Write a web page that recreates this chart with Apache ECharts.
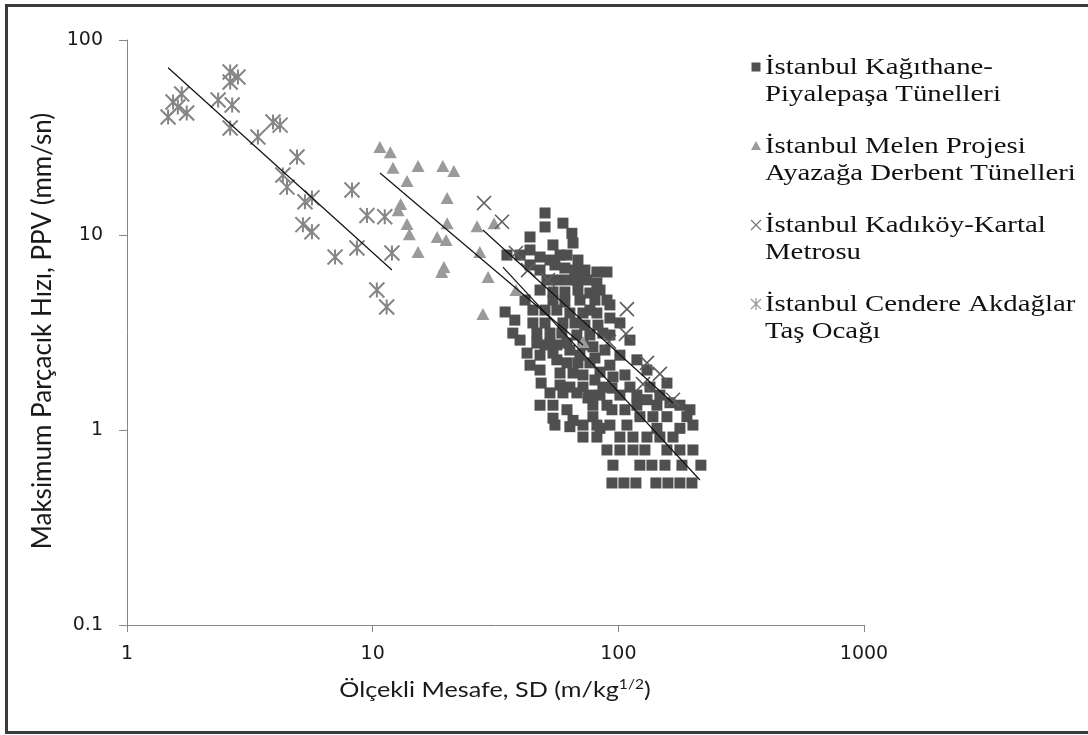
<!DOCTYPE html>
<html>
<head>
<meta charset="utf-8">
<script src="https://cdn.jsdelivr.net/npm/echarts@6/dist/echarts.min.js"></script>
<style>
  html, body { margin: 0; padding: 0; background: #fff; }
  #chart { width: 1088px; height: 735px; }
</style>
</head>
<body>
<div id="chart"></div>
<script>
// Scaled distance SD (m/kg^1/2) vs. peak particle velocity PPV (mm/sn)

const seriesNames = [
  'İstanbul Kağıthane-\nPiyalepaşa Tünelleri',
  'İstanbul Melen Projesi\nAyazağa Derbent Tünelleri',
  'İstanbul Kadıköy-Kartal\nMetrosu',
  'İstanbul Cendere Akdağlar\nTaş Ocağı'
];

const xTicks = [1, 10, 100, 1000];
const yTicks = [0.1, 1, 10, 100];

// [SD, PPV]
const kagithane = [
  [50.3, 12.97], [50.3, 11.0], [59.5, 11.5], [64.7, 10.2], [65.4, 9.1], [43.7, 9.77],
  [35.2, 7.89], [43.7, 8.38], [48.0, 7.71], [52.7, 7.44], [57.9, 7.89], [61.8, 7.89],
  [68.5, 7.44], [55.2, 7.02], [60.6, 6.77], [66.6, 6.61], [73.1, 6.61], [81.8, 6.46],
  [89.9, 6.46], [51.2, 5.88], [56.2, 5.88], [61.8, 5.88], [67.8, 5.88], [74.5, 5.88],
  [81.8, 5.67], [48.0, 5.22], [54.2, 5.10], [60.6, 5.10], [68.5, 5.22], [76.6, 5.04],
  [54.2, 4.64], [60.6, 4.53], [69.8, 4.64], [80.3, 4.64], [89.9, 4.64], [34.6, 4.03],
  [44.9, 4.12], [50.3, 4.12], [56.2, 4.12], [63.5, 3.98], [71.8, 3.98], [81.8, 3.98],
  [92.4, 3.75], [101.5, 3.54], [44.9, 3.54], [50.3, 3.54], [37.2, 3.14], [46.6, 3.14],
  [52.7, 3.14], [58.9, 3.14], [67.8, 3.07], [76.6, 3.07], [86.5, 3.14], [111.5, 2.89],
  [46.6, 2.79], [52.7, 2.79], [61.8, 2.79], [78.8, 2.67], [88.2, 2.57], [42.5, 2.48],
  [48.0, 2.42], [54.2, 2.48], [69.8, 2.42], [101.5, 2.42], [61.8, 2.21], [68.5, 2.21],
  [76.6, 2.21], [119.0, 2.29], [57.9, 1.96], [65.4, 1.96], [84.2, 1.98], [95.1, 1.87],
  [130.8, 2.03], [48.5, 1.74], [63.5, 1.66], [71.8, 1.66], [86.5, 1.66], [111.5, 1.66],
  [134.5, 1.66], [157.7, 1.74], [52.7, 1.55], [59.5, 1.55], [67.8, 1.55], [76.6, 1.51],
  [101.5, 1.51], [48.0, 1.34], [54.2, 1.34], [61.8, 1.27], [78.8, 1.34], [89.9, 1.34],
  [130.8, 1.43], [143.6, 1.34], [162.2, 1.38], [178.1, 1.34], [195.6, 1.27], [54.2, 1.15],
  [65.4, 1.12], [71.8, 1.06], [81.8, 1.06], [92.4, 1.06], [108.4, 1.06], [122.4, 1.17],
  [138.3, 1.17], [157.7, 1.17], [190.2, 1.17], [63.5, 1.04], [84.2, 1.02], [71.8, 0.92],
  [114.7, 0.92], [130.8, 0.92], [147.6, 0.92], [166.9, 0.92], [89.9, 0.79], [101.5, 0.79],
  [114.7, 0.79], [178.1, 0.79], [95.1, 0.66], [122.4, 0.66], [137.0, 0.66], [154.8, 0.66],
  [181.5, 0.66], [216.8, 0.66], [94.2, 0.535], [105.4, 0.535], [117.9, 0.535],
  [142.2, 0.535], [159.2, 0.535], [178.1, 0.535], [199.3, 0.535],
  [56.2, 2.73], [63.5, 2.57], [71.8, 2.73], [80.3, 2.34], [56.2, 2.29], [71.8, 1.915],
  [80.3, 1.805], [92.4, 2.15], [57.9, 1.70], [75.2, 1.46], [84.2, 1.51], [94.2, 1.64],
  [106.4, 1.915], [119.0, 1.51], [94.2, 1.27], [106.4, 1.27], [119.0, 1.34], [147.6, 1.51],
  [55.2, 1.06], [78.8, 1.17], [143.6, 1.02], [178.1, 1.02], [201.2, 1.06], [101.5, 0.92],
  [81.8, 0.92], [157.7, 0.79], [201.2, 0.79], [128.3, 0.79], [41.7, 4.64], [39.8, 2.89],
  [50.3, 2.73], [43.7, 2.15], [48.0, 2.03], [37.9, 3.66], [73.1, 3.45], [82.6, 3.45],
  [92.4, 3.07], [66.6, 3.54], [59.5, 3.54], [76.6, 4.12], [92.4, 4.38], [84.2, 5.22],
  [48.0, 6.61], [43.7, 7.02], [39.8, 7.89], [54.2, 8.89]
];

const melen = [
  [10.7, 28.3], [11.8, 26.6], [12.1, 22.1], [15.3, 22.6], [19.3, 22.6], [21.4, 21.3],
  [13.8, 18.9], [20.1, 15.5], [13.0, 14.4], [12.7, 13.4], [13.8, 11.4], [14.1, 10.1],
  [20.1, 11.5], [18.3, 9.77], [19.9, 9.43], [15.3, 8.18], [19.5, 6.85], [19.1, 6.46],
  [26.6, 11.1], [27.3, 8.18], [29.5, 6.09], [31.2, 11.5], [28.1, 3.94], [38.3, 5.22],
  [71.8, 2.83]
];

const kadikoy = [
  [28.4, 14.6], [33.6, 11.7], [38.3, 8.08], [42.9, 6.61], [51.7, 5.88], [108.4, 4.17],
  [107.4, 3.11], [91.6, 2.83], [130.8, 2.21], [147.6, 1.94], [126.0, 1.72], [166.9, 1.43]
];

const cendere = [
  [1.47, 40.3], [1.54, 48.1], [1.67, 52.9], [1.75, 42.2], [1.61, 45.3], [2.63, 68.5],
  [2.83, 64.6], [2.63, 60.9], [2.35, 49.2], [2.68, 46.4], [2.63, 35.4], [3.41, 31.8],
  [3.93, 38.0], [4.20, 36.6], [4.92, 25.1], [4.31, 20.3], [4.48, 17.6], [5.30, 14.8],
  [5.66, 15.5], [5.20, 11.3], [5.66, 10.4], [8.24, 17.0], [9.48, 12.6], [11.2, 12.4],
  [7.03, 7.71], [8.63, 8.58], [11.98, 8.09], [10.4, 5.22], [11.4, 4.27]
];

// Power-law fits, given by their end points (straight on log-log axes)
const fitKagithane = [[33.9, 6.85], [214.8, 0.554]];
const fitMelen = [[10.71, 20.8], [71.8, 2.73]];
const fitKadikoy = [[28.1, 10.6], [166.9, 1.375]];
const fitCendere = [[1.47, 72.1], [11.98, 6.61]];

const COLORS = {
  kagithane: '#4f4f4f',
  melen: '#9a9a9a',
  kadikoy: '#5e5e5e',
  cendere: '#858585'
};

const CROSS = 'path://M0,0L10,10M10,0L0,10';
const STAR = 'path://M0,0L10,10M10,0L0,10M5,0L5,10';

const chart = echarts.init(document.getElementById('chart'), null, { renderer: 'canvas' });

const GRID = { left: 127, top: 40, width: 737, height: 585 };

function fitLine(data) {
  return {
    type: 'line', data: data, showSymbol: false, symbol: 'none', silent: true,
    lineStyle: { color: '#111', width: 1.2 }, z: 5, animation: false
  };
}

const legendTop = 54;
const legendGap = 79;
const legendIconX = 756;
const legendTextX = 765;
const lineH = 27;
const legendGraphics = [];
const iconStyles = [
  { type: 'rect', shape: { x: -4.5, y: -4.5, width: 9, height: 9 }, style: { fill: COLORS.kagithane } },
  { type: 'polygon', shape: { points: [[0, -5], [5, 4], [-5, 4]] }, style: { fill: COLORS.melen } },
  { type: 'polyline', shape: { points: [[-5, -5], [5, 5], [0, 0], [5, -5], [-5, 5]] }, style: { stroke: '#777', lineWidth: 1.2, fill: null } },
  { type: 'polyline', shape: { points: [[-5, -5], [5, 5], [0, 0], [5, -5], [-5, 5], [0, 0], [0, -6], [0, 6]] }, style: { stroke: '#999', lineWidth: 1.2, fill: null } }
];
seriesNames.forEach(function (name, i) {
  const y = legendTop + i * legendGap;
  const icon = Object.assign({}, iconStyles[i], { x: legendIconX, y: y + 13 });
  legendGraphics.push(icon);
  legendGraphics.push({
    type: 'text', x: legendTextX, y: y, scaleX: 1.2,
    style: {
      text: name, fill: '#111', font: '24px "Liberation Serif", serif',
      lineHeight: lineH, textVerticalAlign: 'top'
    }
  });
});

const option = {
  animation: false,
  backgroundColor: '#fff',
  grid: GRID,
  xAxis: {
    type: 'log', logBase: 10, min: 1, max: 1000,
    axisLine: { show: true, onZero: false, lineStyle: { color: '#868686', width: 1 } },
    axisTick: { show: true, length: 7, lineStyle: { color: '#868686' } },
    axisLabel: { margin: 20, color: '#1a1a1a', fontFamily: 'DejaVu Sans', fontSize: 19,
      formatter: function (v) { return xTicks.indexOf(v) >= 0 ? String(v) : ''; } },
    splitLine: { show: false }, minorTick: { show: false }
  },
  yAxis: {
    type: 'log', logBase: 10, min: 0.1, max: 100,
    axisLine: { show: true, onZero: false, lineStyle: { color: '#868686', width: 1 } },
    axisTick: { show: true, length: 8, lineStyle: { color: '#868686' } },
    axisLabel: { margin: 24, color: '#1a1a1a', fontFamily: 'DejaVu Sans', fontSize: 19,
      formatter: function (v) {
        const t = yTicks.find(function (k) { return Math.abs(k - v) / k < 1e-6; });
        return t !== undefined ? String(t) : '';
      } },
    splitLine: { show: false }, minorTick: { show: false }
  },
  series: [
    { name: seriesNames[0], type: 'scatter', data: kagithane, symbol: 'rect', symbolSize: 11,
      itemStyle: { color: COLORS.kagithane, opacity: 1 }, z: 2 },
    { name: seriesNames[1], type: 'scatter', data: melen, symbol: 'triangle', symbolSize: [13, 12],
      itemStyle: { color: COLORS.melen, opacity: 1 }, z: 3 },
    { name: seriesNames[2], type: 'scatter', data: kadikoy, symbol: CROSS, symbolSize: 14,
      itemStyle: { color: 'none', borderColor: COLORS.kadikoy, borderWidth: 1.6, opacity: 1 }, z: 4 },
    { name: seriesNames[3], type: 'scatter', data: cendere, symbol: STAR, symbolSize: 15,
      itemStyle: { color: 'none', borderColor: COLORS.cendere, borderWidth: 2, opacity: 1 }, z: 4 },
    fitLine(fitKagithane),
    fitLine(fitMelen),
    fitLine(fitKadikoy),
    fitLine(fitCendere)
  ],
  graphic: [
    { type: 'rect', shape: { x: 6.5, y: 5.5, width: 1100, height: 727 },
      style: { fill: null, stroke: '#3a3a3a', lineWidth: 3 }, silent: true, z: 100 },
    {
      type: 'text', x: 43, y: 331, rotation: Math.PI / 2,
      style: { text: 'Maksimum Parçacık Hızı, PPV (mm/sn)', fill: '#1a1a1a',
        font: '26px Lato, "Open Sans", sans-serif', textAlign: 'center', textVerticalAlign: 'middle' }
    },
    {
      type: 'text', x: 495, y: 690, scaleX: 1.2,
      style: {
        text: 'Ölçekli Mesafe, SD (m/kg{sup|1/2})', fill: '#1a1a1a',
        font: '21px Lato, "Open Sans", sans-serif', textAlign: 'center', textVerticalAlign: 'middle',
        rich: { sup: { fontSize: 13, fontFamily: 'Lato', padding: [0, 0, 10, 0], fill: '#1a1a1a' } }
      }
    }
  ].concat(legendGraphics)
};

chart.setOption(option);
</script>
</body>
</html>
